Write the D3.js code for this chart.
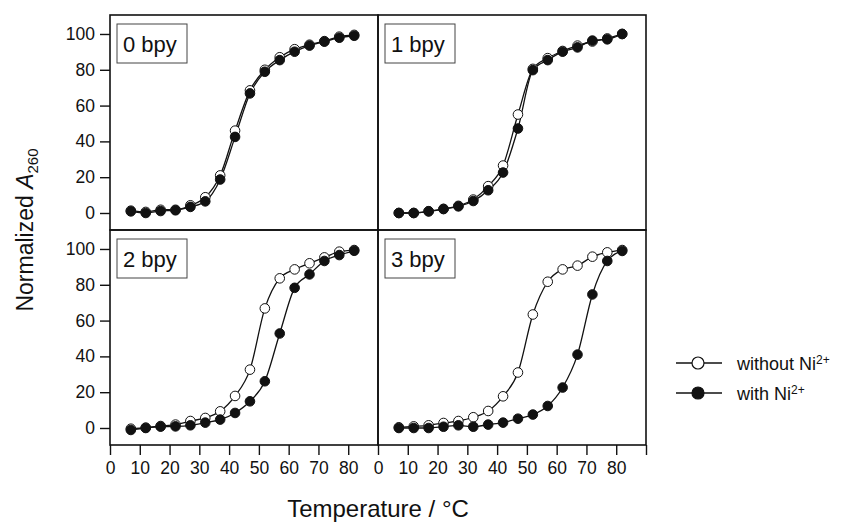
<!DOCTYPE html>
<html>
<head>
<meta charset="utf-8">
<script src="https://cdn.jsdelivr.net/npm/d3@7"></script>
<style>
  body { margin: 0; background: #fff; }
  svg text { font-family: "Liberation Sans", Arial, Helvetica, sans-serif; fill: #111; }
</style>
</head>
<body>
<svg id="chart" width="848" height="522"></svg>
<script>
// temperatures (°C) shared by every panel
const temps = [7, 12, 17, 22, 27, 32, 37, 42, 47, 52, 57, 62, 67, 72, 77, 82];
const panelLabels = ["0 bpy", "1 bpy", "2 bpy", "3 bpy"];
const xTicks = [0, 10, 20, 30, 40, 50, 60, 70, 80];
const yTicks = [0, 20, 40, 60, 80, 100];

// normalized A260, without Ni2+ (open) / with Ni2+ (filled)
const without0 = [1.3, 0.6, 1.8, 1.8, 4.3, 8.8, 21, 46, 68.5, 80, 87, 91.5, 94, 96, 98.5, 99.5];
const with0    = [0.9, 0, 1.1, 1.5, 3.4, 6.5, 18.7, 42.5, 66.8, 78.9, 85.4, 90.1, 93.5, 95.7, 97.9, 99];
const without1 = [0, 0, 1, 2.3, 4, 7.5, 15, 26.5, 55, 80.5, 86.5, 90.5, 93.5, 95.8, 97.5, 100];
const with1    = [0, 0, 0.9, 2.2, 3.7, 6.7, 12.7, 22.6, 47.2, 79.8, 85.4, 90.1, 92.5, 96.3, 97, 100];
const without2 = [-0.4, 0.2, 1.1, 1.9, 3.9, 5.6, 9.3, 17.9, 32.6, 66.8, 83.6, 88.6, 92, 95.3, 98.5, 99.4];
const with2    = [-1.1, 0, 0.75, 0.9, 1.5, 3, 4.7, 8.4, 14.9, 26.1, 52.8, 78.3, 85.8, 93.3, 96.6, 99];
const without3 = [0.4, 0.9, 1.5, 2.8, 3.9, 6.0, 9.5, 17.7, 31, 63.4, 81.7, 88.6, 90.7, 95.7, 98.1, 99.4];
const with3    = [0, 0, 0, 0.7, 1.5, 0.7, 1.9, 3, 5.2, 7.5, 12.3, 22.6, 41, 74.6, 93.3, 98.9];

const withoutSeries = [without0, without1, without2, without3];
const withSeries = [with0, with1, with2, with3];

const PANEL_W = 268;
const PANEL_H = 215;
const LEFT = 110;
const TOP = 15;

const svg = d3.select("#chart");

panelLabels.forEach((label, i) => {
    let col = i % 2;
    let row = Math.floor(i / 2);
    let x0 = LEFT + col * PANEL_W;
    let y0 = TOP + row * PANEL_H;

    let x = d3.scaleLinear().domain([0, 90]).range([x0, x0 + PANEL_W]);
    let y = d3.scaleLinear().domain([-9.5, 110.6]).range([y0 + PANEL_H, y0]);

    let g = svg.append("g");

    // y axis only on the left column
    if (col === 0) {
        let yAxis = d3.axisLeft(y).tickValues(yTicks).tickSize(10).tickPadding(5);
        let ya = g.append("g").attr("transform", "translate(" + x0 + ",0)").call(yAxis);
        ya.select(".domain").remove();
        ya.selectAll("line").attr("stroke", "#111").attr("stroke-width", 1.4);
        ya.selectAll("text").style("font-size", "17.5px").style("font-family", "Liberation Sans, Arial, sans-serif");
    }
    // x axis only on the bottom row
    if (row === 1) {
        let ticks = col === 0 ? xTicks : xTicks.concat([90]);
        let xAxis = d3.axisBottom(x).tickValues(ticks).tickSize(10).tickPadding(7)
            .tickFormat(d => d === 90 ? "" : d);
        let xa = g.append("g").attr("transform", "translate(0," + (y0 + PANEL_H) + ")").call(xAxis);
        xa.select(".domain").remove();
        xa.selectAll("line").attr("stroke", "#111").attr("stroke-width", 1.4);
        xa.selectAll("text").style("font-size", "17.5px").style("font-family", "Liberation Sans, Arial, sans-serif");
    }

    let line = d3.line()
        .x((d, j) => x(temps[j]))
        .y(d => y(d))
        .curve(d3.curveMonotoneX);

    [withoutSeries[i], withSeries[i]].forEach(series => {
        g.append("path")
            .attr("d", line(series))
            .attr("fill", "none")
            .attr("stroke", "#111")
            .attr("stroke-width", 1.3);
    });

    g.selectAll("circle.open")
        .data(withoutSeries[i])
        .join("circle")
        .attr("class", "open")
        .attr("cx", (d, j) => x(temps[j]))
        .attr("cy", d => y(d))
        .attr("r", 4.8)
        .attr("fill", "#fff")
        .attr("stroke", "#111")
        .attr("stroke-width", 1);

    g.selectAll("circle.filled")
        .data(withSeries[i])
        .join("circle")
        .attr("class", "filled")
        .attr("cx", (d, j) => x(temps[j]))
        .attr("cy", d => y(d))
        .attr("r", 4.8)
        .attr("fill", "#111")
        .attr("stroke", "#111")
        .attr("stroke-width", 1);

    // panel frame
    g.append("rect")
        .attr("x", x0).attr("y", y0)
        .attr("width", PANEL_W).attr("height", PANEL_H)
        .attr("fill", "none")
        .attr("stroke", "#111")
        .attr("stroke-width", 1.6);

    // label box
    g.append("rect")
        .attr("x", x0 + 7).attr("y", y0 + 9)
        .attr("width", 70).attr("height", 39)
        .attr("fill", "#fff")
        .attr("stroke", "#444")
        .attr("stroke-width", 1);
    g.append("text")
        .attr("x", x0 + 13).attr("y", y0 + 37)
        .style("font-size", "22px")
        .text(label);
});

// axis titles
svg.append("text")
    .attr("x", LEFT + PANEL_W)
    .attr("y", 517)
    .attr("text-anchor", "middle")
    .style("font-size", "24px")
    .text("Temperature / °C");

let yTitle = svg.append("text")
    .attr("transform", "translate(33," + (TOP + PANEL_H) + ") rotate(-90)")
    .attr("text-anchor", "middle")
    .style("font-size", "23px");
yTitle.append("tspan").text("Normalized ");
yTitle.append("tspan").style("font-style", "italic").text("A");
yTitle.append("tspan").attr("dy", 5).style("font-size", "15px").text("260");

// legend
const legendItems = [
    { label: "without Ni", fill: "#fff", y: 363 },
    { label: "with Ni", fill: "#111", y: 393 }
];
legendItems.forEach(item => {
    svg.append("line")
        .attr("x1", 676).attr("x2", 722)
        .attr("y1", item.y).attr("y2", item.y)
        .attr("stroke", "#111").attr("stroke-width", 1.4);
    svg.append("circle")
        .attr("cx", 698).attr("cy", item.y).attr("r", 6)
        .attr("fill", item.fill).attr("stroke", "#111").attr("stroke-width", 1.2);
    let t = svg.append("text")
        .attr("x", 737).attr("y", item.y + 7)
        .style("font-size", "18px");
    t.append("tspan").text(item.label);
    t.append("tspan").attr("dy", -6).style("font-size", "12px").text("2+");
});
</script>
</body>
</html>
